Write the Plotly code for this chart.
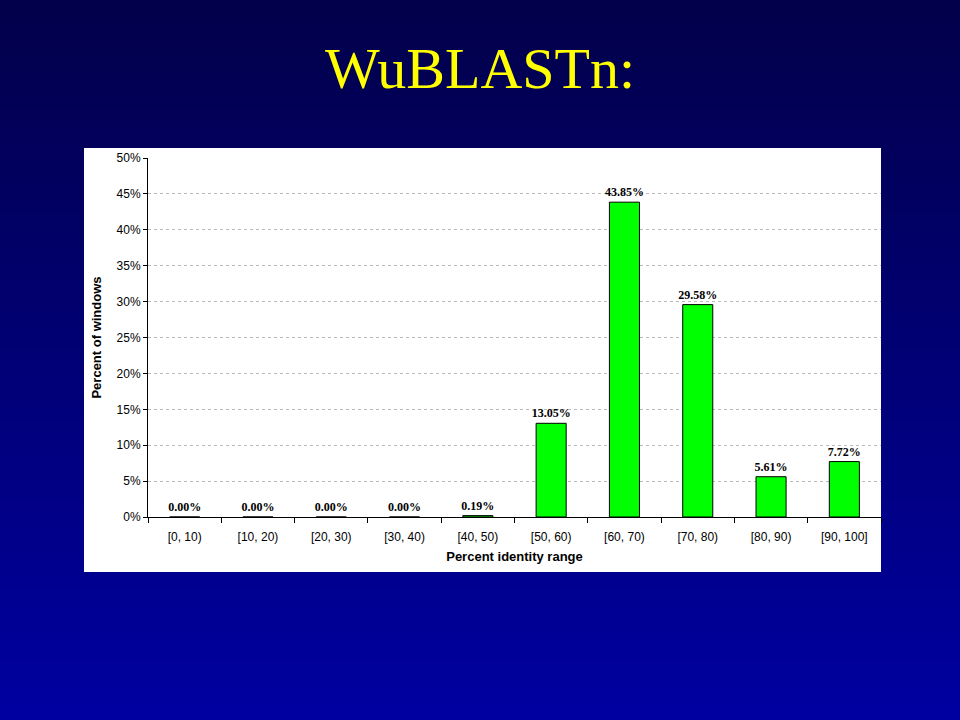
import plotly.graph_objects as go

categories = ["[0, 10)", "[10, 20)", "[20, 30)", "[30, 40)", "[40, 50)",
              "[50, 60)", "[60, 70)", "[70, 80)", "[80, 90)", "[90, 100]"]
percent_windows = [0.00, 0.00, 0.00, 0.00, 0.19, 13.05, 43.85, 29.58, 5.61, 7.72]
y_ticks = [0, 5, 10, 15, 20, 25, 30, 35, 40, 45, 50]
y_tick_labels = [f"{v}%" for v in y_ticks]

W, H = 960, 720
L, R, T, B = 148, 79, 158, 203
ph = H - T - B
pw = W - L - R

def px_to_paper_y(py):
    return (H - B - py) / ph

def px_to_paper_x(px):
    return (px - L) / pw

shapes = []
n = 72
top_c = (2, 0, 74)
bot_c = (0, 0, 160)
for i in range(n):
    t = i / (n - 1)
    c = tuple(round(top_c[k] + (bot_c[k] - top_c[k]) * t) for k in range(3))
    y0 = i * H / n
    y1 = (i + 1) * H / n + 1
    shapes.append(dict(type="rect", xref="paper", yref="paper", layer="below",
                       x0=px_to_paper_x(-2), x1=px_to_paper_x(W + 2),
                       y0=px_to_paper_y(y1), y1=px_to_paper_y(y0),
                       line=dict(width=0), fillcolor=f"rgb{c}"))
# white chart area
shapes.append(dict(type="rect", xref="paper", yref="paper", layer="below",
                   x0=px_to_paper_x(84), x1=px_to_paper_x(881),
                   y0=px_to_paper_y(572), y1=px_to_paper_y(148),
                   line=dict(width=0), fillcolor="white"))

fig = go.Figure()
fig.add_trace(go.Bar(
    x=categories, y=percent_windows,
    marker=dict(color="#00FF00", line=dict(color="black", width=1)),
    texttemplate="%{y:.2f}%", textposition="outside", cliponaxis=False,
    constraintext="none",
    textfont=dict(family="Liberation Serif", size=12, color="black", weight="bold"),
    hoverinfo="skip",
))

fig.update_layout(
    width=W, height=H,
    margin=dict(l=L, r=R, t=T, b=B, autoexpand=False),
    paper_bgcolor="#000050",
    plot_bgcolor="rgba(0,0,0,0)",
    shapes=shapes,
    showlegend=False,
    bargap=0.59,
    title=dict(text="WuBLASTn:", x=0.5, xanchor="center", y=1 - 68 / H, yanchor="middle",
               font=dict(family="Liberation Serif", size=58, color="#FFFF00")),
    xaxis=dict(
        showline=True, linecolor="black", linewidth=1,
        ticks="outside", tickson="boundaries", ticklen=5, tickcolor="black",
        tickfont=dict(family="Liberation Sans", size=12, color="black"),
        ticklabelstandoff=9,
        showgrid=False,
        title=dict(text="Percent identity range", standoff=8,
                   font=dict(family="Liberation Sans", size=13, color="black", weight="bold")),
    ),
    yaxis=dict(
        range=[0, 50], tickvals=y_ticks, ticktext=y_tick_labels,
        showline=True, linecolor="black", linewidth=1,
        ticks="outside", ticklen=4, tickcolor="black",
        tickfont=dict(family="Liberation Sans", size=12, color="black"),
        showgrid=True, gridcolor="#BBBBBB", griddash="3px,3px", gridwidth=1,
        zeroline=False,
        title=dict(text="Percent of windows", standoff=12,
                   font=dict(family="Liberation Sans", size=13, color="black", weight="bold")),
    ),
)

fig.write_html("out.html", config={"displayModeBar": False},
               post_script="document.body.style.margin='0';document.body.style.overflow='hidden';")
